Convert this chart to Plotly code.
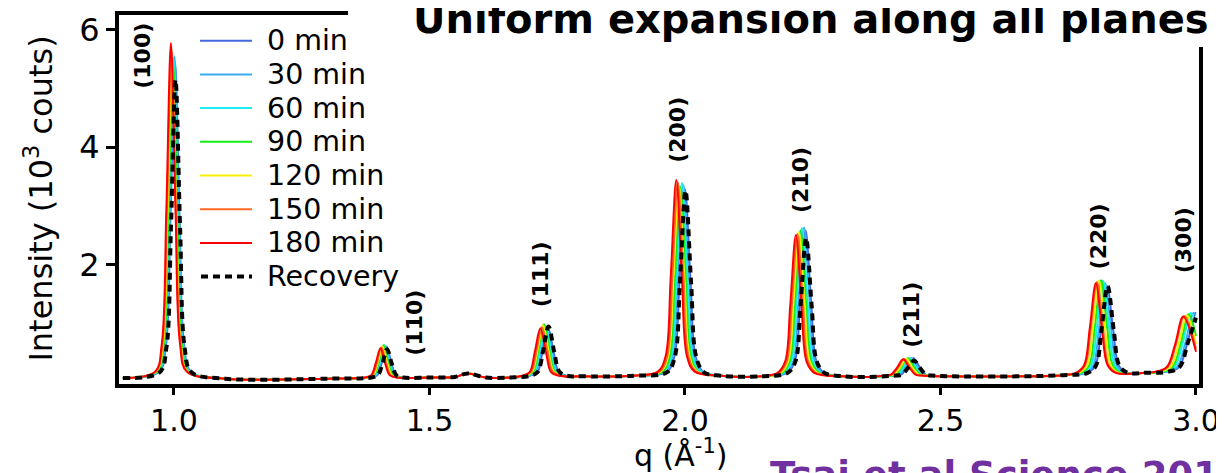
import plotly.graph_objects as go

# ---------------- data ----------------
# shared baseline points between peaks (q in 1/Angstrom, intensity in 10^3 counts)
base_q = [0.900, 1.10, 1.30, 1.50, 1.55, 1.575, 1.61, 1.66, 1.80, 1.90, 2.07, 2.15, 2.31, 2.36, 2.52, 2.65, 2.74, 2.90]
base_i = [0.06, 0.05, 0.05, 0.07, 0.08, 0.14, 0.07, 0.07, 0.09, 0.10, 0.10, 0.09, 0.09, 0.08, 0.09, 0.09, 0.11, 0.15]

q_0min = [0.971, 0.984, 0.993, 1.002, 1.011, 1.020, 1.033,
          1.385, 1.398, 1.407, 1.416, 1.425, 1.434, 1.447,
          1.696, 1.711, 1.721, 1.732, 1.743, 1.753, 1.768,
          1.964, 1.979, 1.989, 2.000, 2.011, 2.021, 2.036,
          2.200, 2.215, 2.225, 2.236, 2.247, 2.257, 2.272,
          2.406, 2.423, 2.435, 2.447, 2.459, 2.471, 2.488,
          2.787, 2.803, 2.814, 2.826, 2.838, 2.849, 2.865,
          2.945, 2.967, 2.983, 2.999, 3.000]
i_0min = [0.17, 0.60, 2.76, 5.45, 2.76, 0.60, 0.17,
          0.07, 0.11, 0.33, 0.60, 0.33, 0.11, 0.07,
          0.10, 0.16, 0.50, 0.92, 0.50, 0.16, 0.10,
          0.16, 0.42, 1.69, 3.28, 1.69, 0.42, 0.16,
          0.15, 0.35, 1.34, 2.58, 1.34, 0.35, 0.15,
          0.10, 0.12, 0.25, 0.40, 0.25, 0.12, 0.10,
          0.15, 0.27, 0.88, 1.63, 0.88, 0.27, 0.15,
          0.17, 0.25, 0.66, 1.17, 1.17]

q_30min = [0.970, 0.983, 0.992, 1.001, 1.010, 1.019, 1.032,
           1.383, 1.396, 1.405, 1.414, 1.423, 1.432, 1.445,
           1.693, 1.708, 1.718, 1.729, 1.740, 1.750, 1.765,
           1.961, 1.976, 1.986, 1.997, 2.008, 2.018, 2.033,
           2.197, 2.212, 2.222, 2.233, 2.244, 2.254, 2.269,
           2.402, 2.419, 2.431, 2.443, 2.455, 2.467, 2.484,
           2.783, 2.799, 2.810, 2.822, 2.834, 2.845, 2.861,
           2.941, 2.963, 2.979, 2.995, 3.000]
i_30min = [0.17, 0.61, 2.81, 5.55, 2.81, 0.61, 0.17,
           0.07, 0.11, 0.33, 0.60, 0.33, 0.11, 0.07,
           0.10, 0.17, 0.51, 0.93, 0.51, 0.17, 0.10,
           0.17, 0.43, 1.73, 3.35, 1.73, 0.43, 0.17,
           0.15, 0.35, 1.37, 2.63, 1.37, 0.35, 0.15,
           0.10, 0.12, 0.25, 0.40, 0.25, 0.12, 0.10,
           0.15, 0.28, 0.90, 1.68, 0.90, 0.28, 0.15,
           0.17, 0.25, 0.66, 1.17, 1.14]

q_60min = [0.968, 0.981, 0.990, 0.999, 1.008, 1.017, 1.030,
           1.381, 1.394, 1.403, 1.412, 1.421, 1.430, 1.443,
           1.691, 1.706, 1.716, 1.727, 1.738, 1.748, 1.763,
           1.958, 1.973, 1.983, 1.994, 2.005, 2.015, 2.030,
           2.193, 2.208, 2.218, 2.229, 2.240, 2.250, 2.265,
           2.399, 2.416, 2.428, 2.440, 2.452, 2.464, 2.481,
           2.779, 2.795, 2.806, 2.818, 2.830, 2.841, 2.857,
           2.936, 2.958, 2.974, 2.990, 3.000]
i_60min = [0.17, 0.61, 2.79, 5.52, 2.79, 0.61, 0.17,
           0.07, 0.12, 0.34, 0.62, 0.34, 0.12, 0.07,
           0.10, 0.17, 0.52, 0.95, 0.52, 0.17, 0.10,
           0.17, 0.43, 1.75, 3.39, 1.75, 0.43, 0.17,
           0.15, 0.35, 1.36, 2.62, 1.36, 0.35, 0.15,
           0.10, 0.12, 0.25, 0.40, 0.25, 0.12, 0.10,
           0.15, 0.28, 0.92, 1.72, 0.92, 0.28, 0.15,
           0.17, 0.25, 0.66, 1.17, 1.00]

q_90min = [0.967, 0.980, 0.989, 0.998, 1.007, 1.016, 1.029,
           1.379, 1.392, 1.401, 1.410, 1.419, 1.428, 1.441,
           1.688, 1.703, 1.713, 1.724, 1.735, 1.745, 1.760,
           1.955, 1.970, 1.980, 1.991, 2.002, 2.012, 2.027,
           2.190, 2.205, 2.215, 2.226, 2.237, 2.247, 2.262,
           2.395, 2.412, 2.424, 2.436, 2.448, 2.460, 2.477,
           2.775, 2.791, 2.802, 2.814, 2.826, 2.837, 2.853,
           2.932, 2.954, 2.970, 2.986, 3.000]
i_90min = [0.17, 0.60, 2.76, 5.45, 2.76, 0.60, 0.17,
           0.07, 0.12, 0.34, 0.62, 0.34, 0.12, 0.07,
           0.10, 0.17, 0.53, 0.98, 0.53, 0.17, 0.10,
           0.16, 0.42, 1.71, 3.32, 1.71, 0.42, 0.16,
           0.15, 0.35, 1.34, 2.58, 1.34, 0.35, 0.15,
           0.10, 0.12, 0.25, 0.40, 0.25, 0.12, 0.10,
           0.15, 0.28, 0.93, 1.73, 0.93, 0.28, 0.15,
           0.17, 0.25, 0.65, 1.15, 0.78]

q_120min = [0.965, 0.978, 0.987, 0.996, 1.005, 1.014, 1.027,
            1.377, 1.390, 1.399, 1.408, 1.417, 1.426, 1.439,
            1.686, 1.701, 1.711, 1.722, 1.733, 1.743, 1.758,
            1.952, 1.967, 1.977, 1.988, 1.999, 2.009, 2.024,
            2.187, 2.202, 2.212, 2.223, 2.234, 2.244, 2.259,
            2.392, 2.409, 2.421, 2.433, 2.445, 2.457, 2.474,
            2.771, 2.787, 2.798, 2.810, 2.822, 2.833, 2.849,
            2.928, 2.950, 2.966, 2.982, 3.000]
i_120min = [0.17, 0.60, 2.78, 5.50, 2.78, 0.60, 0.17,
            0.07, 0.11, 0.33, 0.60, 0.33, 0.11, 0.07,
            0.10, 0.17, 0.52, 0.96, 0.52, 0.17, 0.10,
            0.17, 0.43, 1.73, 3.35, 1.73, 0.43, 0.17,
            0.15, 0.35, 1.33, 2.55, 1.33, 0.35, 0.15,
            0.10, 0.12, 0.24, 0.39, 0.24, 0.12, 0.10,
            0.15, 0.28, 0.92, 1.72, 0.92, 0.28, 0.15,
            0.17, 0.25, 0.64, 1.13, 0.64]

q_150min = [0.964, 0.977, 0.986, 0.995, 1.004, 1.013, 1.026,
            1.375, 1.388, 1.397, 1.406, 1.415, 1.424, 1.437,
            1.684, 1.699, 1.709, 1.720, 1.731, 1.741, 1.756,
            1.950, 1.965, 1.975, 1.986, 1.997, 2.007, 2.022,
            2.184, 2.199, 2.209, 2.220, 2.231, 2.241, 2.256,
            2.388, 2.405, 2.417, 2.429, 2.441, 2.453, 2.470,
            2.767, 2.783, 2.794, 2.806, 2.818, 2.829, 2.845,
            2.923, 2.945, 2.961, 2.977, 3.000]
i_150min = [0.17, 0.62, 2.86, 5.65, 2.86, 0.62, 0.17,
            0.07, 0.11, 0.32, 0.58, 0.32, 0.11, 0.07,
            0.10, 0.17, 0.51, 0.93, 0.51, 0.17, 0.10,
            0.17, 0.43, 1.75, 3.40, 1.75, 0.43, 0.17,
            0.15, 0.34, 1.31, 2.52, 1.31, 0.34, 0.15,
            0.10, 0.12, 0.24, 0.38, 0.24, 0.12, 0.10,
            0.15, 0.28, 0.91, 1.70, 0.91, 0.28, 0.15,
            0.17, 0.25, 0.64, 1.12, 0.56]

q_180min = [0.963, 0.976, 0.985, 0.994, 1.003, 1.012, 1.025,
            1.373, 1.386, 1.395, 1.404, 1.413, 1.422, 1.435,
            1.681, 1.696, 1.706, 1.717, 1.728, 1.738, 1.753,
            1.947, 1.962, 1.972, 1.983, 1.994, 2.004, 2.019,
            2.181, 2.196, 2.206, 2.217, 2.228, 2.238, 2.253,
            2.386, 2.403, 2.415, 2.427, 2.439, 2.451, 2.468,
            2.765, 2.781, 2.792, 2.804, 2.816, 2.827, 2.843,
            2.921, 2.943, 2.959, 2.975, 3.000]
i_180min = [0.17, 0.63, 2.92, 5.78, 2.92, 0.63, 0.17,
            0.07, 0.11, 0.32, 0.57, 0.32, 0.11, 0.07,
            0.10, 0.16, 0.50, 0.91, 0.50, 0.16, 0.10,
            0.17, 0.43, 1.77, 3.44, 1.77, 0.43, 0.17,
            0.15, 0.34, 1.30, 2.50, 1.30, 0.34, 0.15,
            0.10, 0.12, 0.24, 0.38, 0.24, 0.12, 0.10,
            0.15, 0.28, 0.90, 1.68, 0.90, 0.28, 0.15,
            0.17, 0.25, 0.63, 1.11, 0.51]

q_recovery = [0.972, 0.985, 0.994, 1.003, 1.012, 1.021, 1.034,
              1.386, 1.399, 1.408, 1.417, 1.426, 1.435, 1.448,
              1.697, 1.712, 1.722, 1.733, 1.744, 1.754, 1.769,
              1.965, 1.980, 1.990, 2.001, 2.012, 2.022, 2.037,
              2.201, 2.216, 2.226, 2.237, 2.248, 2.258, 2.273,
              2.407, 2.424, 2.436, 2.448, 2.460, 2.472, 2.489,
              2.788, 2.804, 2.815, 2.827, 2.839, 2.850, 2.866,
              2.946, 2.968, 2.984, 3.000]
i_recovery = [0.16, 0.57, 2.61, 5.15, 2.61, 0.57, 0.16,
              0.07, 0.11, 0.31, 0.55, 0.31, 0.11, 0.07,
              0.10, 0.17, 0.51, 0.94, 0.51, 0.17, 0.10,
              0.16, 0.42, 1.68, 3.26, 1.68, 0.42, 0.16,
              0.15, 0.34, 1.28, 2.45, 1.28, 0.34, 0.15,
              0.10, 0.12, 0.23, 0.36, 0.23, 0.12, 0.10,
              0.15, 0.27, 0.88, 1.63, 0.88, 0.27, 0.15,
              0.17, 0.25, 0.66, 1.09]

series_names = ["0 min", "30 min", "60 min", "90 min", "120 min", "150 min", "180 min", "Recovery"]
series_q = [q_0min, q_30min, q_60min, q_90min, q_120min, q_150min, q_180min, q_recovery]
series_i = [i_0min, i_30min, i_60min, i_90min, i_120min, i_150min, i_180min, i_recovery]
series_colors = ["#4169E1", "#3AAEF2", "#1DEBF2", "#14EE14", "#F7F000", "#FF6726", "#FF0000", "#000000"]

peak_labels = ["(100)", "(110)", "(111)", "(200)", "(210)", "(211)", "(220)", "(300)"]
peak_label_q = [0.938, 1.469, 1.718, 1.984, 2.225, 2.444, 2.810, 2.975]
peak_label_i = [5.565, 1.00, 1.828, 4.293, 3.44, 1.137, 2.476, 2.416]

x_ticks = [1.0, 1.5, 2.0, 2.5, 3.0]
x_tick_text = ["1.0", "1.5", "2.0", "2.5", "3.0"]
y_ticks = [2, 4, 6]
y_tick_text = ["2", "4", "6"]

# ---------------- figure ----------------
OFF = 8  # the page places the figure 8 px from the window's top-left corner
W, H = 1224 - OFF, 473 - OFF
ML, MR, MT, MB = 119 - OFF, 23, 13 - OFF, 89
PW, PH = W - ML - MR, H - MT - MB

def px_x(p):
    """window pixel x -> paper coordinate"""
    return (p - OFF - ML) / PW

def px_y(p):
    """window pixel y -> paper coordinate"""
    return (H - MB - (p - OFF)) / PH

FONT = "DejaVu Sans"
fig = go.Figure()

for name, qs, ins, col in zip(series_names, series_q, series_i, series_colors):
    pts = sorted(zip(base_q + qs, base_i + ins))
    xs = [p[0] for p in pts]
    ys = [p[1] for p in pts]
    if name == "Recovery":
        line = dict(color=col, width=4, dash="7px,5px", shape="spline", smoothing=1)
    else:
        line = dict(color=col, width=2, shape="spline", smoothing=1)
    fig.add_trace(go.Scatter(x=xs, y=ys, mode="lines", name=name, line=line,
                             showlegend=False, hoverinfo="skip"))

annotations = []
shapes = []

# manual legend
row0, row_step = 40.7, 33.7
for k, (name, col) in enumerate(zip(series_names, series_colors)):
    yy = px_y(row0 + k * row_step)
    if name == "Recovery":
        shapes.append(dict(type="line", xref="paper", yref="paper", x0=px_x(201), x1=px_x(252),
                           y0=yy, y1=yy, line=dict(color=col, width=4, dash="7px,5px")))
    else:
        shapes.append(dict(type="line", xref="paper", yref="paper", x0=px_x(200), x1=px_x(252),
                           y0=yy, y1=yy, line=dict(color=col, width=2)))
    annotations.append(dict(text=name, xref="paper", yref="paper", x=px_x(265), y=yy,
                            xanchor="left", yanchor="middle", showarrow=False,
                            font=dict(family=FONT, size=28.5, color="black")))

# peak labels
for lab, qq, ii in zip(peak_labels, peak_label_q, peak_label_i):
    annotations.append(dict(text="<b>" + lab + "</b>", x=qq, y=ii, xref="x", yref="y",
                            textangle=-90, xanchor="center", yanchor="middle", showarrow=False,
                            font=dict(family=FONT, size=22, color="black")))

# title (cut at top in the reference)
annotations.append(dict(text="<b>Uniform expansion along all planes</b>", xref="paper", yref="paper",
                        x=px_x(411), y=px_y(-6), xanchor="left", yanchor="top", showarrow=False,
                        font=dict(family=FONT, size=40, color="black")))
# x axis title
annotations.append(dict(text="q (Å<sup>-1</sup>)", xref="paper", yref="paper",
                        x=px_x(680), y=px_y(475), xanchor="center", yanchor="bottom", showarrow=False,
                        font=dict(family=FONT, size=30, color="black")))
# citation (cut at bottom in the reference)
annotations.append(dict(text="<b>Tsai et al Science 2019</b>", xref="paper", yref="paper",
                        x=px_x(768), y=px_y(452), xanchor="left", yanchor="top", showarrow=False,
                        font=dict(family=FONT, size=37, color="#7030A0")))

# partial top and right frame lines
shapes.append(dict(type="line", xref="paper", yref="paper", x0=px_x(115), x1=px_x(348),
                   y0=1, y1=1, line=dict(color="black", width=4)))
shapes.append(dict(type="line", xref="paper", yref="paper", x0=1, x1=1,
                   y0=px_y(388), y1=px_y(47), line=dict(color="black", width=4)))

fig.update_layout(
    width=W, height=H,
    margin=dict(l=ML, r=MR, t=MT, b=MB, autoexpand=False),
    paper_bgcolor="white", plot_bgcolor="white",
    showlegend=False,
    annotations=annotations, shapes=shapes,
    font=dict(family=FONT, color="black"),
)
fig.update_xaxes(range=[0.8924, 3.0098], tickvals=x_ticks, ticktext=x_tick_text,
                 showline=True, linecolor="black", linewidth=4, ticks="outside",
                 ticklen=7, tickwidth=3, tickcolor="black", showgrid=False, zeroline=False,
                 tickfont=dict(family=FONT, size=30, color="black"))
fig.update_yaxes(range=[-0.041, 6.29], tickvals=y_ticks, ticktext=y_tick_text,
                 showline=True, linecolor="black", linewidth=4, ticks="outside",
                 ticklen=9, tickwidth=3, tickcolor="black", showgrid=False, zeroline=False,
                 tickfont=dict(family=FONT, size=32, color="black"),
                 title=dict(text="Intensity (10<sup>3</sup> couts)", standoff=18,
                            font=dict(family=FONT, size=32, color="black")))

fig.write_html("out.html")
